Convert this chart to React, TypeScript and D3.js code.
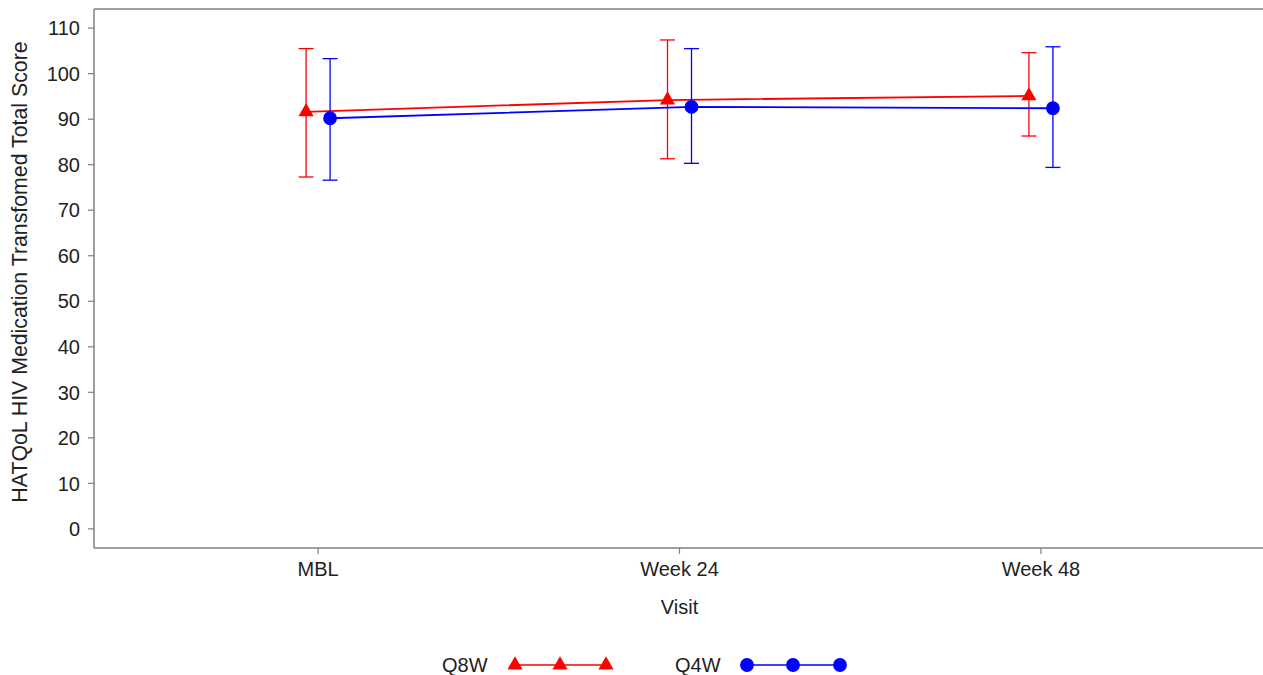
import React, { useEffect, useRef } from "react";
import * as d3 from "d3";

const visits = ["MBL", "Week 24", "Week 48"];
const yTicks = [0, 10, 20, 30, 40, 50, 60, 70, 80, 90, 100, 110];

const q8wMean = [91.6, 94.2, 95.1];
const q8wLower = [77.3, 81.3, 86.3];
const q8wUpper = [105.5, 107.4, 104.6];

const q4wMean = [90.2, 92.7, 92.4];
const q4wLower = [76.6, 80.3, 79.4];
const q4wUpper = [103.3, 105.5, 105.9];

const width = 1263;
const height = 675;

const App = () => {
    const svgRef = useRef<SVGSVGElement>(null);

    useEffect(() => {
        const svg = d3.select(svgRef.current);
        svg.selectAll("*").remove();

        const left = 94;
        const top = 9;
        const bottom = 548;
        const right = 1265;
        const font = "'Liberation Sans', Arial, sans-serif";
        const axisColor = "#808080";
        const textColor = "#222";

        const x = d3.scaleLinear().domain([-0.62, 2.62]).range([left, right]);
        const y = d3.scaleLinear().domain([-4.2, 114.2]).range([bottom, top]);

        // frame: left, bottom, top
        svg.append("line").attr("x1", left).attr("x2", left).attr("y1", top).attr("y2", bottom)
            .attr("stroke", axisColor).attr("stroke-width", 1.5);
        svg.append("line").attr("x1", left).attr("x2", width).attr("y1", bottom).attr("y2", bottom)
            .attr("stroke", axisColor).attr("stroke-width", 1.5);
        svg.append("line").attr("x1", left).attr("x2", width).attr("y1", top).attr("y2", top)
            .attr("stroke", axisColor).attr("stroke-width", 1.5);

        // y ticks
        const yg = svg.append("g");
        yTicks.forEach((t) => {
            yg.append("line").attr("x1", left - 6).attr("x2", left).attr("y1", y(t)).attr("y2", y(t))
                .attr("stroke", axisColor).attr("stroke-width", 1.2);
            yg.append("text").attr("x", left - 14).attr("y", y(t)).attr("dy", "0.36em")
                .attr("text-anchor", "end").style("font-family", font).style("font-size", "20px")
                .style("fill", textColor).text(t);
        });

        // x ticks
        const xg = svg.append("g");
        visits.forEach((v, i) => {
            xg.append("line").attr("x1", x(i)).attr("x2", x(i)).attr("y1", bottom).attr("y2", bottom + 6)
                .attr("stroke", axisColor).attr("stroke-width", 1.2);
            xg.append("text").attr("x", x(i)).attr("y", bottom + 28)
                .attr("text-anchor", "middle").style("font-family", font).style("font-size", "20px")
                .style("fill", textColor).text(v);
        });

        // axis titles
        svg.append("text").attr("x", x(1)).attr("y", 614).attr("text-anchor", "middle")
            .style("font-family", font).style("font-size", "20px").style("fill", textColor).text("Visit");
        svg.append("text").attr("transform", `translate(27, ${272}) rotate(-90)`)
            .attr("text-anchor", "middle").style("font-family", font).style("font-size", "21.3px")
            .style("fill", textColor).text("HATQoL HIV Medication Transfomed Total Score");

        const series = [
            { mean: q8wMean, lower: q8wLower, upper: q8wUpper, color: "#ff0000", offset: -12, symbol: d3.symbolTriangle, size: 100 },
            { mean: q4wMean, lower: q4wLower, upper: q4wUpper, color: "#0000ff", offset: 12, symbol: d3.symbolCircle, size: 150 },
        ];

        const line = d3.line<number>()
            .x((d, i) => x(i))
            .y((d) => y(d));

        series.forEach((s) => {
            const g = svg.append("g").attr("transform", `translate(${s.offset},0)`);
            // error bars
            s.mean.forEach((m, i) => {
                const cx = x(i);
                g.append("line").attr("x1", cx).attr("x2", cx).attr("y1", y(s.lower[i])).attr("y2", y(s.upper[i]))
                    .attr("stroke", s.color).attr("stroke-width", 1.3);
                [s.lower[i], s.upper[i]].forEach((v) => {
                    g.append("line").attr("x1", cx - 7.5).attr("x2", cx + 7.5).attr("y1", y(v)).attr("y2", y(v))
                        .attr("stroke", s.color).attr("stroke-width", 1.3);
                });
            });
            g.append("path").attr("d", line(s.mean)).attr("fill", "none")
                .attr("stroke", s.color).attr("stroke-width", 1.8);
            const sym = d3.symbol().type(s.symbol).size(s.size);
            s.mean.forEach((m, i) => {
                g.append("path").attr("d", sym()).attr("transform", `translate(${x(i)},${y(m)})`)
                    .attr("fill", s.color);
            });
        });

        // legend
        const legendY = 665;
        const legend = [
            { label: "Q8W", textX: 442, xs: [515, 560, 606], color: "#ff0000", symbol: d3.symbolTriangle, size: 100 },
            { label: "Q4W", textX: 675, xs: [747, 793, 840], color: "#0000ff", symbol: d3.symbolCircle, size: 150 },
        ];
        legend.forEach((l) => {
            svg.append("text").attr("x", l.textX).attr("y", legendY).attr("dy", "0.36em")
                .style("font-family", font).style("font-size", "20px").style("fill", textColor).text(l.label);
            svg.append("line").attr("x1", l.xs[0]).attr("x2", l.xs[2]).attr("y1", legendY).attr("y2", legendY)
                .attr("stroke", l.color).attr("stroke-width", 1.5);
            const sym = d3.symbol().type(l.symbol).size(l.size);
            l.xs.forEach((lx) => {
                svg.append("path").attr("d", sym()).attr("transform", `translate(${lx},${legendY})`)
                    .attr("fill", l.color);
            });
        });
    }, []);

    return (
        <div style={{ position: "absolute", left: 0, top: 0 }}>
            <svg ref={svgRef} width={width} height={height} style={{ display: "block", background: "#fff" }}></svg>
        </div>
    );
};

export default App;
